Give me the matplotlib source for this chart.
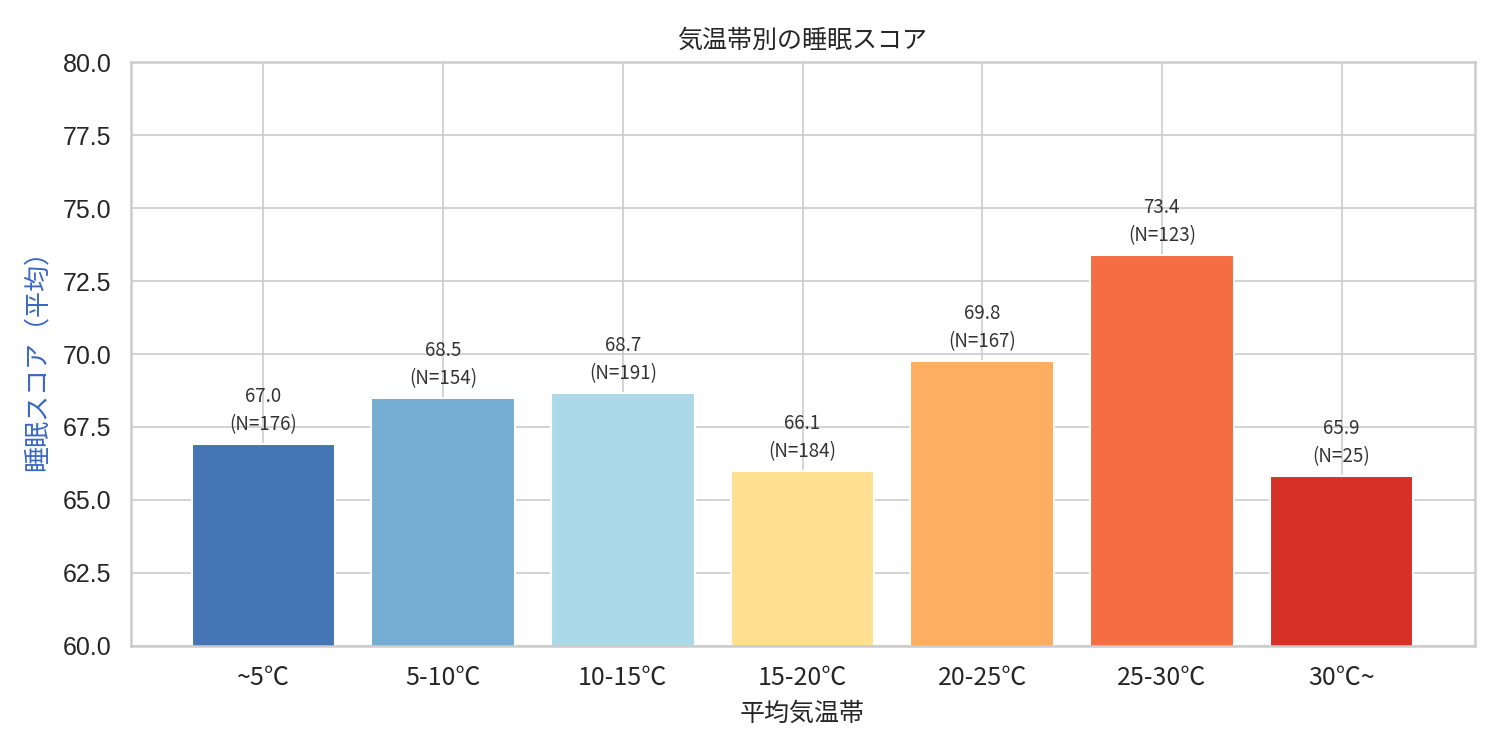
import matplotlib
matplotlib.use("Agg")
import matplotlib.pyplot as plt
import seaborn as sns

categories = ["~5℃", "5-10℃", "10-15℃", "15-20℃", "20-25℃", "25-30℃", "30℃~"]
scores = [66.93, 68.49, 68.66, 65.99, 69.76, 73.39, 65.82]
label_scores = [67.0, 68.5, 68.7, 66.1, 69.8, 73.4, 65.9]
counts = [176, 154, 191, 184, 167, 123, 25]
colors = ["#4575b4", "#74add1", "#abd9e9", "#fee090", "#fdae61", "#f46d43", "#d73027"]
yticks = [60.0, 62.5, 65.0, 67.5, 70.0, 72.5, 75.0, 77.5, 80.0]

sns.set_style("whitegrid")
plt.rcParams['font.family'] = ['Noto Sans CJK JP', 'DejaVu Sans']

fig, ax = plt.subplots(figsize=(10, 5), dpi=150)
fig.subplots_adjust(left=0.087, right=0.983, top=0.917, bottom=0.139)

x = list(range(len(categories)))
ax.bar(x, scores, color=colors, width=0.8, zorder=2)
for xi, v, lv, n in zip(x, scores, label_scores, counts):
    ax.text(xi, v + 0.3, f"{lv:.1f}\n(N={n})", ha='center', va='bottom',
            fontsize=9, color='#333333', linespacing=1.45, zorder=3)

ax.set_ylim(60, 80)
ax.set_yticks(yticks)
ax.set_yticklabels([f"{t:.1f}" for t in yticks], fontfamily='Liberation Sans', fontsize=12, color='#262626')
ax.set_xticks(x)
ax.set_xticklabels(categories, fontsize=12, color='#262626')
ax.set_xlim(-0.74, 6.74)
ax.set_title("気温帯別の睡眠スコア", fontsize=12, color='#262626', pad=7)
ax.set_xlabel("平均気温帯", fontsize=12, color='#262626', labelpad=5)
ax.set_ylabel("睡眠スコア（平均）", fontsize=12.5, color='#3a68c2', labelpad=6)
ax.tick_params(axis='y', length=0, pad=9)
ax.tick_params(axis='x', length=0, pad=9)
ax.set_axisbelow(True)
for s in ax.spines.values():
    s.set_color('#cccccc')
    s.set_linewidth(1.2)

fig.savefig("out.png", dpi=150)
